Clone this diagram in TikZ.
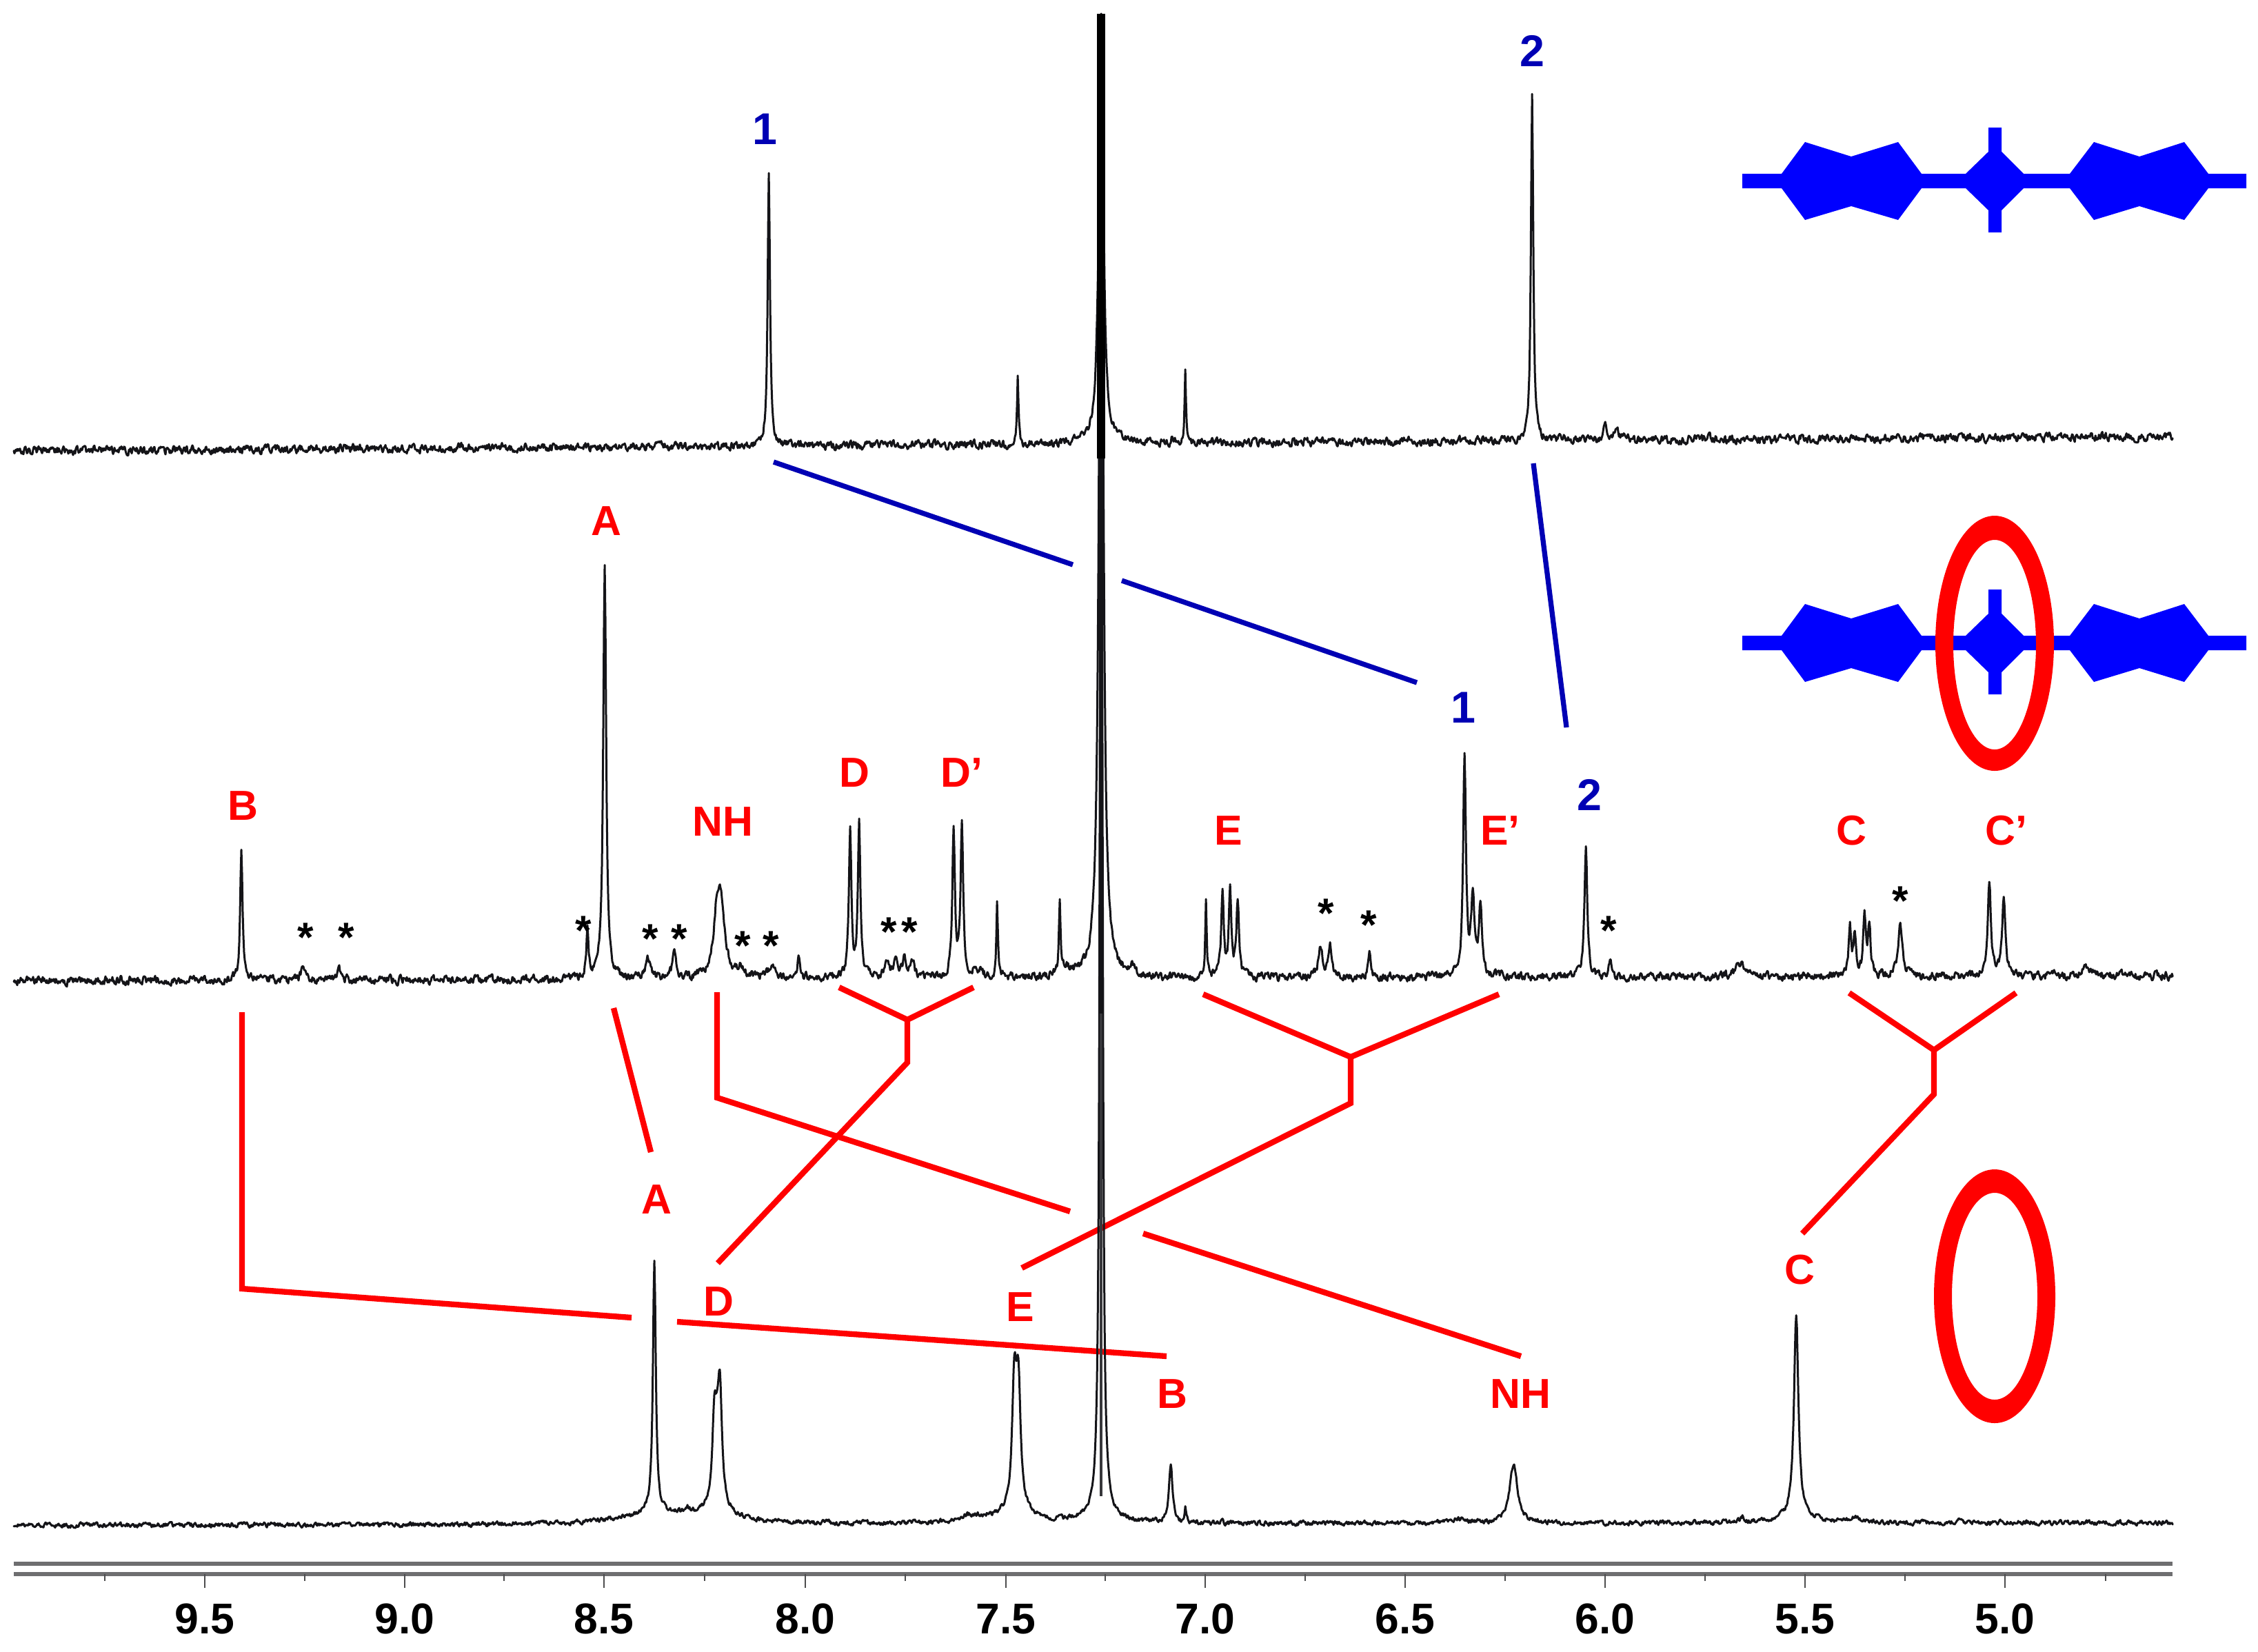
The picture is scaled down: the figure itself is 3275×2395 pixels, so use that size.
\documentclass[tikz,border=0pt]{standalone}
\usepackage{fontspec}
\setmainfont{Liberation Sans}
\definecolor{nmrblue}{HTML}{0000B4}
\definecolor{molblue}{HTML}{0000FF}
\definecolor{axisgrey}{HTML}{6E6E70}
\definecolor{traceink}{HTML}{141418}
\tikzset{
  redlink/.style={draw=red,line width=2pt,line cap=butt,line join=miter},
  bluelink/.style={draw=nmrblue,line width=1.75pt},
  redlbl/.style={text=red,font=\bfseries\fontsize{14.6}{15}\selectfont,inner sep=0pt,text height=10.8pt,text depth=0pt},
  bluelbl/.style={text=nmrblue,font=\bfseries\fontsize{15.5}{15}\selectfont,inner sep=0pt,text height=11.2pt,text depth=0pt},
  starlbl/.style={text=black,font=\bfseries\fontsize{14.5}{15}\selectfont,inner sep=0pt,anchor=base},
  ticklbl/.style={text=black,font=\bfseries\fontsize{15}{15}\selectfont,inner sep=0pt,text height=10.7pt,text depth=0pt},
  axisline/.style={draw=axisgrey,line width=1.25pt},
  ticka/.style={draw=axisgrey!70!black,line width=0.55pt},
  molecule/.style={fill=molblue,draw=none},
  ring/.style={fill=red,even odd rule,draw=none}
}
\makeatletter
\newcount\sX \newcount\sY \newcount\sN \newcount\sSeed \newcount\sR \newcount\sI \newcount\sT
% x in px, height in px, half width in tenths of a px; internal unit 0.1 px
\def\PK#1#2#3{-#2*10*(#3*#3)/(#3*#3+(\sX-#1*10)*(\sX-#1*10))}
\def\sStep{%
  \sSeed=\numexpr\sSeed*1103+12345\relax
  \sT=\sSeed \divide\sT by 65536 \multiply\sT by 65536 \advance\sSeed-\sT
  \sR=\sSeed \divide\sR by 656
  \sN=\numexpr(\sN+(\sR-50)*\sAmp/25)/2\relax
  \sY=\numexpr\sYa+(\sYb-\sYa)*(\sX-200)/31310+\sN\sPeaks\relax
  \ifnum\sY<200 \sY=200 \fi
}
\def\sPoint{\pgfqpoint{\dimexpr1573sp*\sX\relax}{\dimexpr-1573sp*\sY\relax}}
% #1 left base (0.1px) #2 right base #3 noise #4 seed #5 peaks
\def\spectrum#1#2#3#4#5{%
  \def\sYa{#1}\def\sYb{#2}\def\sAmp{#3}\def\sPeaks{#5}%
  \sX=200 \sSeed=#4 \sN=0 \sI=0
  \begin{pgfscope}
  \pgfsetlinewidth{0.72pt}\pgfsetstrokecolor{traceink}\pgfsetroundjoin\pgfsetroundcap
  \sStep \pgfpathmoveto{\sPoint}%
  \loop
    \advance\sX by 10
    \sStep
    \pgfpathlineto{\sPoint}%
    \advance\sI by 1
    \ifnum\sI=150
      \pgfusepath{stroke}\pgfpathmoveto{\sPoint}\sI=0
    \fi
  \ifnum\sX<31510 \repeat
  \pgfusepath{stroke}
  \end{pgfscope}}
\makeatother
\newcommand{\moleculeshape}{%
  (2527,252)--(2584,252)--(2618,206)--(2685,227)--(2753,206)--(2787,252)--(2851,252)--(2884,220)--(2884,185)--(2903,185)--(2903,220)--(2935,252)--(3002,252)--(3037,206)--(3103,227)--(3168,206)--(3203,252)--(3258,252)--(3258,273)--(3203,273)--(3168,319)--(3103,299)--(3037,319)--(3002,273)--(2935,273)--(2903,305)--(2903,337)--(2884,337)--(2884,305)--(2851,273)--(2787,273)--(2753,319)--(2685,299)--(2618,319)--(2584,273)--(2527,273)--cycle}
\begin{document}
\begin{tikzpicture}[x=0.24pt,y=-0.24pt]
\useasboundingbox (0,0) rectangle (3275,2395);
\fill[white] (0,0) rectangle (3275,2395);

% connector ends
\coordinate (bl1a) at (1122,670); \coordinate (bl1b) at (1556,819);
\coordinate (bl1c) at (1627,842); \coordinate (bl1d) at (2055,990);
\coordinate (bl2a) at (2224,672); \coordinate (bl2b) at (2272,1055);
\coordinate (rB1) at (351,1468); \coordinate (rB2) at (351,1869);
\coordinate (rB3) at (916,1911); \coordinate (rB4) at (982,1917); \coordinate (rB5) at (1692,1967);
\coordinate (rA1) at (890,1462); \coordinate (rA2) at (944,1671);
\coordinate (rN1) at (1040,1439); \coordinate (rN2) at (1040,1592); \coordinate (rN3) at (1552,1757);
\coordinate (rN4) at (1658,1789); \coordinate (rN5) at (2206,1967);
\coordinate (rDl) at (1217,1432); \coordinate (rDr) at (1412,1432); \coordinate (rDj) at (1316,1479);
\coordinate (rDs) at (1316,1541); \coordinate (rDe) at (1041,1832);
\coordinate (rEl) at (1745,1442); \coordinate (rEr) at (2174,1442); \coordinate (rEj) at (1959,1533);
\coordinate (rEs) at (1959,1600); \coordinate (rEe) at (1482,1839);
\coordinate (rCl) at (2682,1440); \coordinate (rCr) at (2924,1440); \coordinate (rCj) at (2805,1523);
\coordinate (rCs) at (2805,1587); \coordinate (rCe) at (2614,1789);

% connectors
\draw[redlink] (rB1)--(rB2)--(rB3);
\draw[redlink] (rB4)--(rB5);
\draw[redlink] (rA1)--(rA2);
\draw[redlink] (rN1)--(rN2)--(rN3);
\draw[redlink] (rN4)--(rN5);
\draw[redlink] (rDl)--(rDj)--(rDr);
\draw[redlink] (rDj)--(rDs)--(rDe);
\draw[redlink] (rEl)--(rEj)--(rEr);
\draw[redlink] (rEj)--(rEs)--(rEe);
\draw[redlink] (rCl)--(rCj)--(rCr);
\draw[redlink] (rCj)--(rCs)--(rCe);
\draw[bluelink] (bl1a)--(bl1b);
\draw[bluelink] (bl1c)--(bl1d);
\draw[bluelink] (bl2a)--(bl2b);

% spectra
\spectrum{6540}{6330}{50}{4711}{%
 \PK{1115}{392}{20}\PK{1476}{102}{12}\PK{1719}{104}{12}\PK{1597}{623}{38}%
 \PK{2222}{503}{20}\PK{1668}{12}{15}\PK{1700}{10}{20}\PK{2328}{28}{25}%
 \PK{2345}{18}{40}\PK{2267}{8}{30}\PK{2477}{10}{20}}
\spectrum{14220}{14150}{50}{921}{%
 \PK{350}{187}{20}\PK{440}{22}{30}\PK{491}{25}{25}\PK{852}{65}{20}\PK{877}{605}{25}%
 \PK{940}{30}{40}\PK{978}{40}{30}\PK{1040}{85}{60}\PK{1046}{85}{60}%
 \PK{1074}{16}{60}\PK{1121}{18}{70}\PK{1158}{30}{25}%
 \PK{1233}{215}{22}\PK{1246}{225}{22}%
 \PK{1287}{26}{35}\PK{1300}{26}{35}\PK{1312}{26}{35}\PK{1323}{26}{35}%
 \PK{1383}{215}{22}\PK{1395}{222}{22}\PK{1417}{12}{80}\PK{1446}{108}{13}%
 \PK{1537}{102}{13}\PK{1545}{14}{80}\PK{1597}{1393}{35}\PK{1641}{14}{40}%
 \PK{1749}{108}{13}\PK{1773}{118}{22}\PK{1784}{125}{22}\PK{1795}{108}{22}%
 \PK{1915}{48}{32}\PK{1929}{44}{32}\PK{1986}{32}{20}%
 \PK{2124}{320}{24}\PK{2136}{115}{28}\PK{2147}{105}{24}%
 \PK{2300}{188}{24}\PK{2335}{25}{20}\PK{2525}{20}{80}%
 \PK{2683}{70}{22}\PK{2690}{60}{22}\PK{2704}{88}{22}\PK{2711}{75}{22}\PK{2756}{76}{35}%
 \PK{2885}{142}{27}\PK{2906}{118}{27}\PK{3024}{13}{80}}
\spectrum{22120}{22080}{28}{3301}{%
 \PK{949}{365}{25}\PK{950}{15}{600}\PK{996}{10}{50}\PK{1036}{120}{35}\PK{1040}{50}{35}\PK{1044}{160}{35}%
 \PK{1040}{18}{300}\PK{1198}{7}{20}\PK{1410}{10}{250}%
 \PK{1471}{175}{38}\PK{1477}{175}{38}\PK{1474}{15}{300}%
 \PK{1597}{2190}{19}\PK{1598}{10}{300}\PK{1698}{85}{30}\PK{1719}{22}{12}\PK{1772}{8}{15}%
 \PK{2117}{6}{150}\PK{2195}{85}{70}\PK{2527}{8}{40}\PK{2605}{295}{38}\PK{2605}{8}{300}%
 \PK{2689}{7}{80}\PK{2842}{7}{20}}

% solvent core
\coordinate (solvTop) at (1597,20); \coordinate (solvEnd) at (1597,665);
\coordinate (solvLow) at (1597,1470); \coordinate (solvFoot) at (1597,2170);
\draw[draw=traceink!85!white,line width=0.85pt] (solvLow)--(solvFoot);
\draw[draw=traceink,line width=1.2pt] (solvEnd)--(solvLow);
\draw[draw=black,line width=2.8pt] (solvTop)--(solvEnd);

% axis
\coordinate (axAL) at (20,2268); \coordinate (axAR) at (3151,2268);
\coordinate (axBL) at (20,2283); \coordinate (axBR) at (3151,2283);
\draw[axisline] (axAL)--(axAR);
\draw[axisline] (axBL)--(axBR);
\foreach \x in {152,442,731,1022,1313,1603,1893,2183,2473,2763,3054}
  \draw[ticka] (\x,2283)--(\x,2293);
\foreach \x/\v/\n in {297/9.5/a,587/9.0/b,876/8.5/c,1168/8.0/d,1459/7.5/e,1748/7.0/f,2038/6.5/g,2328/6.0/h,2618/5.5/i,2908/5.0/j}{
  \draw[ticka] (\x,2283)--(\x,2303);
  \node[ticklbl] (tick\n) at (\x,2347) {\v};
}

% molecules
\fill[molecule] \moleculeshape;
\begin{scope}[shift={(0,670)}]
\fill[molecule] \moleculeshape;
\end{scope}
\fill[ring] (2893,933) ellipse [x radius=86, y radius=185] (2893,935) ellipse [x radius=60, y radius=152];
\fill[ring] (2893,1880) ellipse [x radius=88, y radius=184] (2893,1880) ellipse [x radius=62, y radius=150];

% labels
\node[bluelbl] (top1) at (1109,186) {1};
\node[bluelbl] (top2) at (2222,73) {2};
\node[bluelbl] (mid1) at (2122,1025) {1};
\node[bluelbl] (mid2) at (2305,1152) {2};
\node[redlbl] (mA) at (879,754) {A};
\node[redlbl] (mB) at (352,1167) {B};
\node[redlbl] (mNH) at (1048,1190) {NH};
\node[redlbl] (mD) at (1239,1119) {D};
\node[redlbl] (mDp) at (1395,1119) {D’};
\node[redlbl] (mE) at (1782,1203) {E};
\node[redlbl] (mEp) at (2176,1203) {E’};
\node[redlbl] (mC) at (2685,1203) {C};
\node[redlbl] (mCp) at (2910,1203) {C’};
\node[redlbl] (bA) at (952,1738) {A};
\node[redlbl] (bD) at (1042,1886) {D};
\node[redlbl] (bE) at (1480,1894) {E};
\node[redlbl] (bB) at (1700,2020) {B};
\node[redlbl] (bNH) at (2205,2020) {NH};
\node[redlbl] (bC) at (2610,1840) {C};

% impurity marks
\foreach \x/\y [count=\i] in {443/1345,502/1345,846/1335,943/1347,985/1347,1077/1357,1118/1357,1289/1337,1319/1337,1923/1310,1985/1327,2333/1335,2756/1292}
  \node[starlbl] (star\i) at (\x,\y+35) {*};
\end{tikzpicture}
\end{document}
